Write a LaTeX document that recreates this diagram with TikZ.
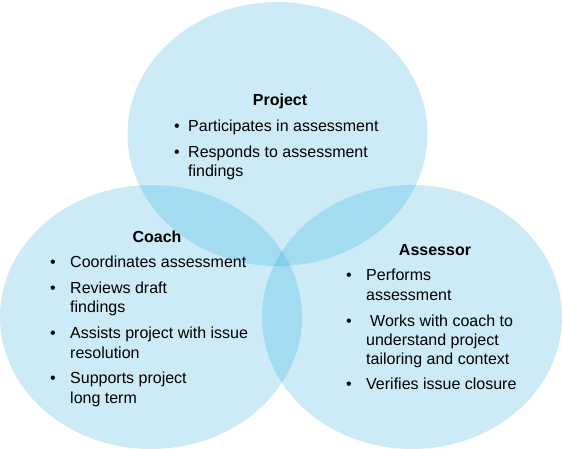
\documentclass[tikz,border=0pt]{standalone}
\usepackage{fontspec}
\setmainfont{Liberation Sans}
\definecolor{vennblue}{RGB}{0,155,215}
\begin{document}
\begin{tikzpicture}[x=1pt,y=-1pt,
  venn/.style={fill=vennblue,fill opacity=0.2},
  ttl/.style={font=\bfseries\fontsize{16}{19}\selectfont, anchor=base, inner sep=0pt},
  itm/.style={font=\fontsize{16}{19}\selectfont, anchor=base west, inner sep=0pt},
  bul/.style={font=\fontsize{16}{19}\selectfont, anchor=base, inner sep=0pt}]
\useasboundingbox (0,0) rectangle (562,449);
\fill[white] (0,0) rectangle (562,449);
% circles
\fill[venn] (277.5,134) ellipse [x radius=150pt, y radius=132pt];
\fill[venn] (151,317) ellipse [x radius=151pt, y radius=132pt];
\fill[venn] (412,317) ellipse [x radius=150pt, y radius=132pt];
% Project
\node[ttl] (pt) at (280,105.5) {Project};
\node[bul] (pb1) at (177,131.5) {•};
\node[itm] (p1) at (188,131.5) {Participates in assessment};
\node[bul] (pb2) at (177,157.5) {•};
\node[itm] (p2a) at (188,157.5) {Responds to assessment};
\node[itm] (p2b) at (188,176.5) {findings};
% Coach
\node[ttl] (ct) at (157,242.5) {Coach};
\node[bul] (cb1) at (53,267.5) {•};
\node[itm] (c1) at (70,267.5) {Coordinates assessment};
\node[bul] (cb2) at (53,293.5) {•};
\node[itm] (c2a) at (70,293.5) {Reviews draft};
\node[itm] (c2b) at (70,312.5) {findings};
\node[bul] (cb3) at (53,338.5) {•};
\node[itm] (c3a) at (70,338.5) {Assists project with issue};
\node[itm] (c3b) at (70,358.5) {resolution};
\node[bul] (cb4) at (53,383.5) {•};
\node[itm] (c4a) at (70,383.5) {Supports project};
\node[itm] (c4b) at (70,403.5) {long term};
% Assessor
\node[ttl] (at) at (435,255.5) {Assessor};
\node[bul] (ab1) at (349,280.5) {•};
\node[itm] (a1a) at (366,280.5) {Performs};
\node[itm] (a1b) at (366,300.5) {assessment};
\node[bul] (ab2) at (349,326.5) {•};
\node[itm] (a2a) at (370,326.5) {Works with coach to};
\node[itm] (a2b) at (366,345.5) {understand project};
\node[itm] (a2c) at (366,364.5) {tailoring and context};
\node[bul] (ab3) at (349,389.5) {•};
\node[itm] (a3) at (366,389.5) {Verifies issue closure};
\end{tikzpicture}
\end{document}
